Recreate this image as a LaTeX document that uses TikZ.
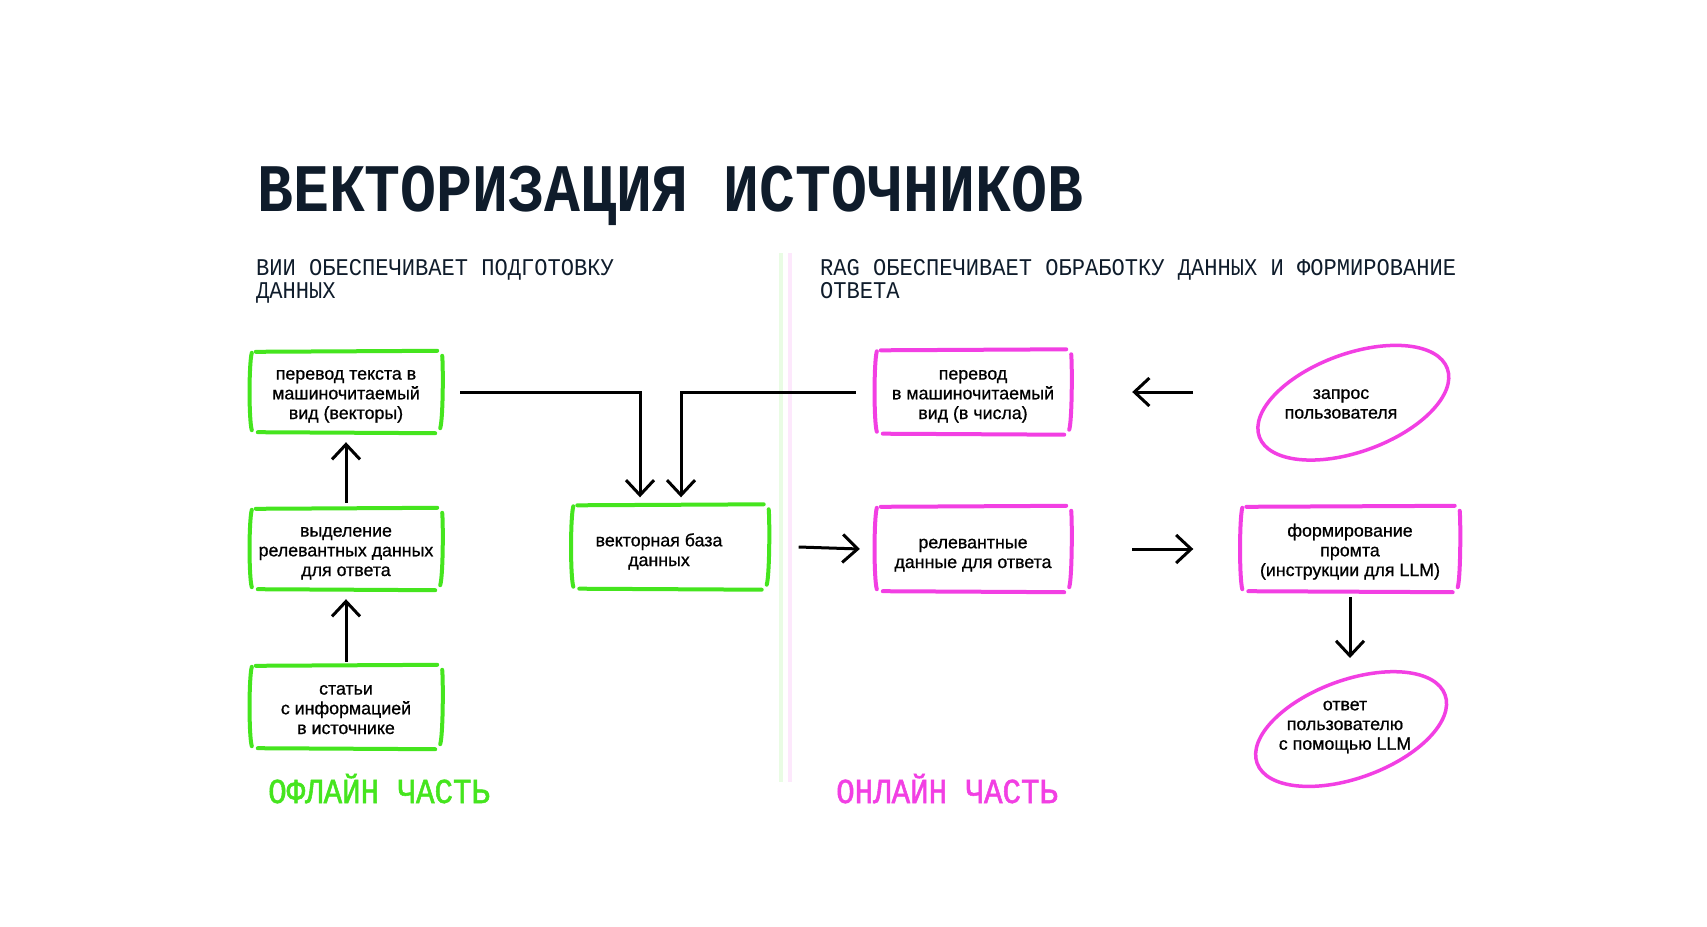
\documentclass[tikz,border=0pt]{standalone}
\usepackage{fontspec}
\setmainfont[FakeBold=0.8]{Liberation Sans}
\newfontfamily\monofont[FakeStretch=0.88]{Liberation Mono}
\newfontfamily\partfont[FakeStretch=0.88,FakeBold=1.5]{Liberation Mono}
\newfontfamily\subfont[FakeStretch=0.92]{Liberation Mono}
\usetikzlibrary{arrows.meta,calc}
\definecolor{gr}{HTML}{45E51E}
\definecolor{pk}{HTML}{F23FE3}
\definecolor{navy}{HTML}{0F1C2B}
\tikzset{
  box/.style={minimum width=192pt, minimum height=80pt, align=center, inner sep=0pt,
    text height=57pt, text depth=3pt, font=\fontsize{17.8}{19.7}\selectfont},
  twoline/.style={text height=41pt, text depth=3pt},
  frameline/.style={line width=4pt, line cap=round, draw=#1},
  arr/.style={line width=3pt, -{Straight Barb[length=15pt,width=28pt]}},
  ovaltext/.style={align=center, inner sep=0pt, font=\fontsize{17.8}{19.7}\selectfont},
  oval/.style={draw=pk, line width=3.5pt},
  subhead/.style={anchor=north west, inner sep=0pt, align=left, text=navy,
    font=\subfont\fontsize{24}{23.5}\selectfont},
  parthead/.style={anchor=base west, inner sep=0pt, font=\partfont\fontsize{35}{36}\selectfont},
}
\newcommand\skframe[2]{%
  \draw[frameline=#2] ([shift={(6pt,0pt)}]#1.north west) -- ([shift={(-5pt,1pt)}]#1.north east);
  \draw[frameline=#2] ([shift={(8pt,0pt)}]#1.south west) -- ([shift={(-7pt,-1pt)}]#1.south east);
  \draw[frameline=#2] ([shift={(2pt,-1pt)}]#1.north west) .. controls ([shift={(-1pt,-12pt)}]#1.north west) and ([shift={(-1pt,12pt)}]#1.south west) .. ([shift={(2pt,2pt)}]#1.south west);
  \draw[frameline=#2] ([shift={(0pt,-4pt)}]#1.north east) .. controls ([shift={(1pt,-14pt)}]#1.north east) and ([shift={(1pt,14pt)}]#1.south east) .. ([shift={(-2pt,4pt)}]#1.south east);
}
\begin{document}
\begin{tikzpicture}[x=1pt,y=1pt]
\useasboundingbox (0,0) rectangle (1707,-926);
\fill[white] (0,0) rectangle (1707,-926);

% title and headings
\node[anchor=base west, inner sep=0pt, text=navy, font=\monofont\bfseries\fontsize{68}{70}\selectfont] (title) at (257,-211) {ВЕКТОРИЗАЦИЯ ИСТОЧНИКОВ};
\node[subhead] (subl) at (256,-259) {ВИИ ОБЕСПЕЧИВАЕТ ПОДГОТОВКУ\\ДАННЫХ};
\node[subhead] (subr) at (820,-259) {RAG ОБЕСПЕЧИВАЕТ ОБРАБОТКУ ДАННЫХ И ФОРМИРОВАНИЕ\\ОТВЕТА};
\node[parthead, text=gr] (offl) at (268,-803) {ОФЛАЙН ЧАСТЬ};
\node[parthead, text=pk] (onl) at (836,-803) {ОНЛАЙН ЧАСТЬ};

% divider
\draw[line width=4pt, gr!12] (781,-253) -- (781,-782);
\draw[line width=4pt, pk!12] (790,-253) -- (790,-782);

% offline boxes
\node[box] (g1) at (346,-392) {перевод текста в\\машиночитаемый\\вид (векторы)};
\node[box] (g2) at (346,-549) {выделение\\релевантных данных\\для ответа};
\node[box, minimum height=82pt] (g3) at (346,-707) {статьи\\с информацией\\в источнике};
\node[box, twoline, minimum width=197pt, minimum height=83pt] (db) at (670,-547) {векторная база\hspace*{22pt}\\данных\hspace*{22pt}};
\skframe{g1}{gr}
\skframe{g2}{gr}
\skframe{g3}{gr}
\skframe{db}{gr}

% online boxes
\node[box, minimum width=196pt, minimum height=83pt] (p1) at (973,-392) {перевод\\в машиночитаемый\\вид (в числа)};
\node[box, twoline, minimum width=196pt, minimum height=84pt] (p2) at (973,-549) {релевантные\\данные для ответа};
\node[box, minimum width=219pt, minimum height=84pt] (p3) at (1350,-549) {формирование\\промта\\(инструкции для LLM)};
\skframe{p1}{pk}
\skframe{p2}{pk}
\skframe{p3}{pk}

% ovals
\node[ovaltext] (e1) at (1341,-404) {запрос\\пользователя};
\node[ovaltext] (e2) at (1345,-727) {ответ\\пользователю\\с помощью LLM};
\draw[oval, rotate around={20:($(e1.center)+(12,-3)$)}] ($(e1.center)+(12,-3)$) ellipse [x radius=100pt, y radius=49pt];
\draw[oval, rotate around={20:($(e2.center)+(5,-4)$)}] ($(e2.center)+(5,-4)$) ellipse [x radius=100pt, y radius=49pt];

% connectors
\draw[arr] ([yshift=6pt]g2.north) -- ([yshift=-10pt]g1.south);
\draw[arr] ([yshift=4pt]g3.north) -- ([yshift=-10pt]g2.south);
\draw[arr] ([xshift=18pt]g1.east) -| ([xshift=-30pt,yshift=8pt]db.north);
\draw[arr] ([xshift=-19pt]p1.west) -| ([xshift=11pt,yshift=8pt]db.north);
\draw[arr] ($(e1.center)+(-148,12)$) -- ([xshift=61pt]p1.east);
\draw[arr] ([xshift=30pt]db.east) -- ([xshift=-15pt]p2.west);
\draw[arr] ([xshift=61pt]p2.east) -- ([xshift=-47pt]p3.west);
\draw[arr] ([yshift=-6pt]p3.south) -- ($(e2.center)+(5,69)$);
\end{tikzpicture}
\end{document}
